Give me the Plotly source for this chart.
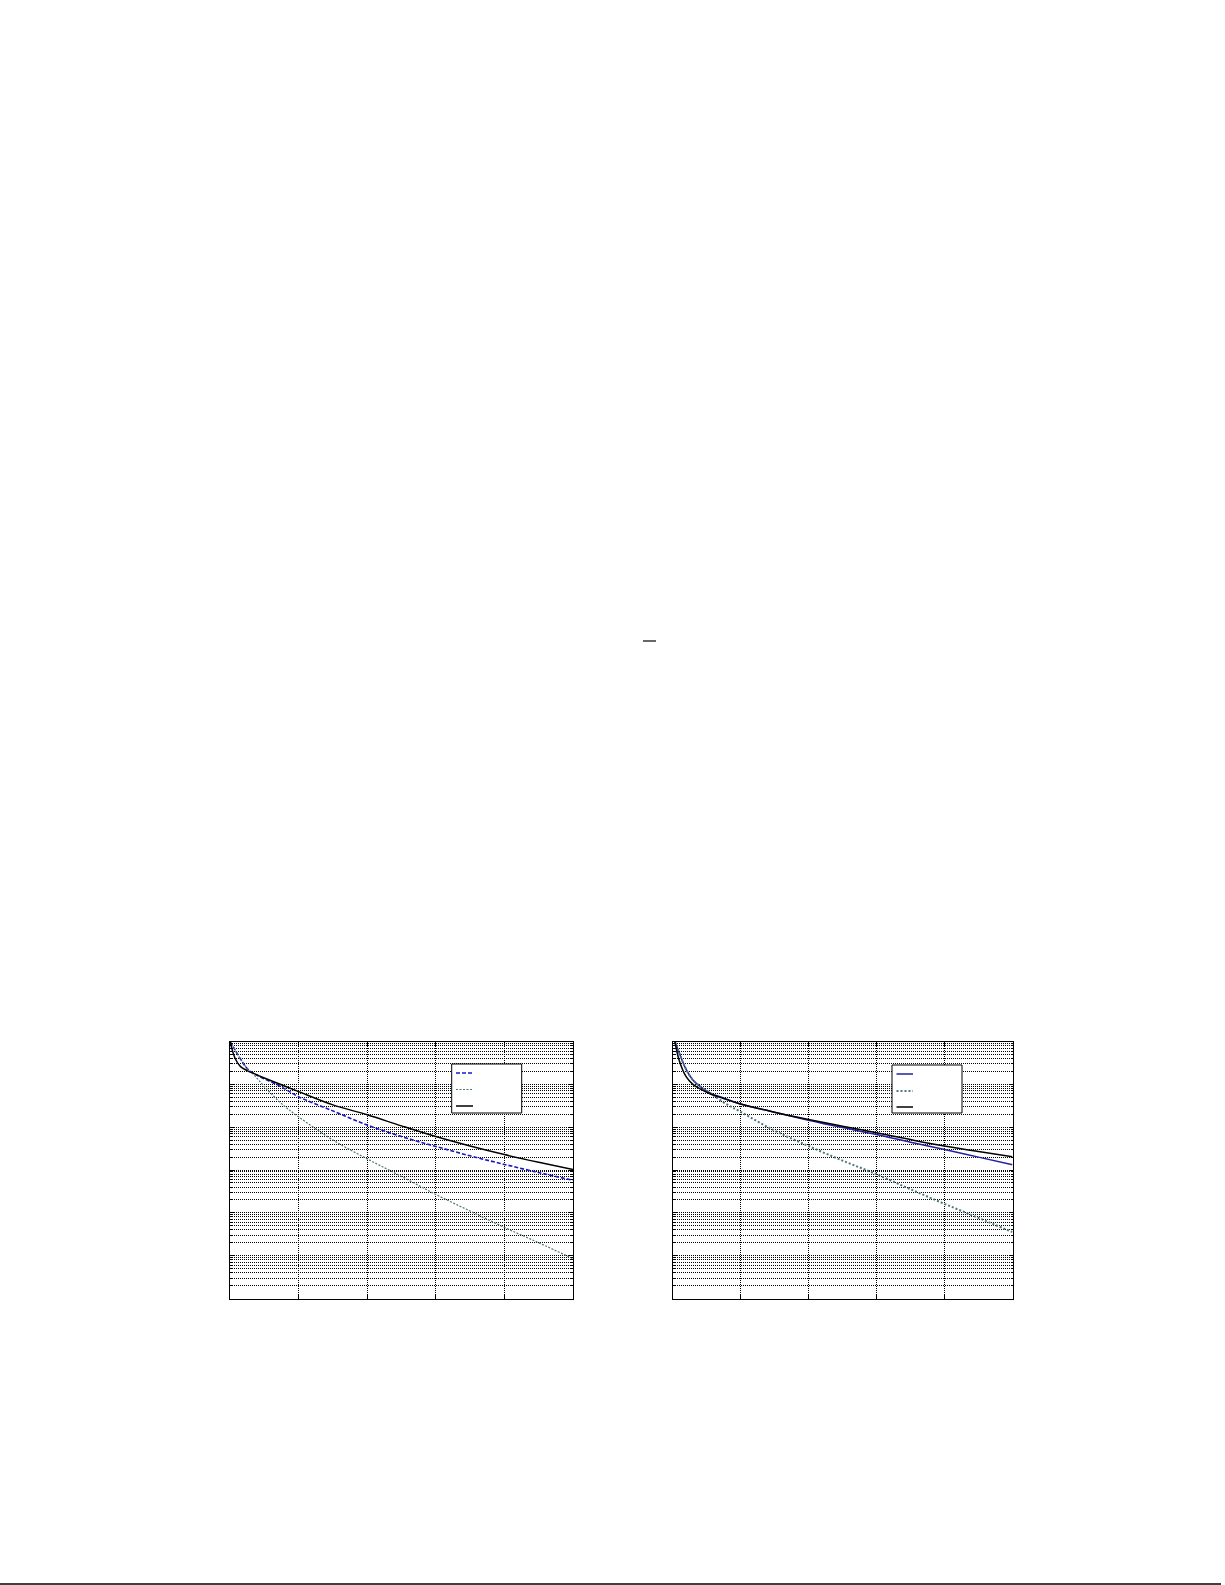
import plotly.graph_objects as go
from plotly.subplots import make_subplots

# page is 1225 x 1585, only the two small plots near the bottom carry marks
W, H = 1225, 1585

# x axis (Eb/N0 in dB, labels not legible in the source)
x_left = [0, 0.15, 0.3, 0.5, 0.7, 1, 1.5, 2, 3, 4, 5, 6, 7, 8, 9, 10]
x_right = [0.07, 0.2, 0.4, 0.6, 0.8, 1.1, 1.5, 2, 3, 4, 5, 6, 7, 8, 9, 10]

# left panel
left_blue = [1.0, 0.631, 0.398, 0.234, 0.178, 0.135, 0.0871, 0.0513, 0.0240,
             0.0112, 0.00603, 0.00355, 0.00214, 0.00135, 0.00087, 0.000575]
left_gray = [1.0, 0.631, 0.398, 0.234, 0.166, 0.0891, 0.0355, 0.0174, 0.00501,
             0.00182, 0.000708, 0.000269, 0.00011, 4.57e-5, 2.0e-5, 8.5e-6]
left_black = [1.0, 0.40, 0.263, 0.209, 0.178, 0.141, 0.0977, 0.0676, 0.0331,
              0.0195, 0.0107, 0.00603, 0.00363, 0.00229, 0.00151, 0.00102]

# right panel
right_blue = [1.0, 0.537, 0.224, 0.126, 0.0912, 0.0631, 0.0479, 0.0347, 0.0224,
              0.0145, 0.00977, 0.00676, 0.00447, 0.00302, 0.0020, 0.00132]
right_gray = [1.0, 0.537, 0.224, 0.126, 0.0912, 0.0631, 0.038, 0.0229, 0.00832,
              0.00363, 0.00166, 0.000794, 0.000355, 0.000162, 7.59e-5, 3.55e-5]
right_black = [1.0, 0.355, 0.151, 0.100, 0.0794, 0.0603, 0.0468, 0.0347, 0.0224,
               0.0151, 0.0105, 0.00741, 0.00513, 0.00363, 0.00269, 0.00204]

BLUE = "#1818c8"
NAVY = "#2020a0"
GRAY = "#507878"

# line styles, shared by curves and the legend samples
sty_l = [dict(color=BLUE, width=1.6, dash="4px,2px"),
         dict(color=GRAY, width=1.2, dash="2px,1.5px"),
         dict(color="black", width=1.5)]
sty_r = [dict(color=NAVY, width=1.5),
         dict(color=GRAY, width=2, dash="2px,2px"),
         dict(color="black", width=1.5)]

fig = make_subplots(rows=1, cols=2)

for y, s in zip([left_blue, left_gray, left_black], sty_l):
    fig.add_trace(go.Scatter(x=x_left, y=y, mode="lines",
                             line=dict(shape="spline", **s)), 1, 1)
for y, s in zip([right_blue, right_gray, right_black], sty_r):
    fig.add_trace(go.Scatter(x=x_right, y=y, mode="lines",
                             line=dict(shape="spline", **s)), 1, 2)

xdom_l = [230 / W, 573 / W]
xdom_r = [672.5 / W, 1012.5 / W]
ydom = [1 - 1298.5 / H, 1 - 1041.5 / H]

grid = dict(showgrid=True, gridcolor="black", gridwidth=1, griddash="1px,1px")
axis_common = dict(showline=True, linecolor="black", linewidth=1, mirror="ticks",
                   ticks="inside", ticklen=4, tickcolor="black",
                   showticklabels=False, zeroline=False, **grid)

for i, dom in ((1, xdom_l), (2, xdom_r)):
    fig.update_xaxes(domain=dom, range=[0, 10], dtick=2, row=1, col=i, **axis_common)
    fig.update_yaxes(domain=ydom, type="log", range=[-6, 0], dtick=1, row=1, col=i,
                     minor=dict(dtick="D1", ticks="inside", ticklen=2,
                                tickcolor="black", **grid),
                     **axis_common)


def px_x(v):
    return v / W


def px_y(v):
    return 1 - v / H


# legend boxes (entry text is not legible in the source, only the samples)
shapes = []
for (bx0, by0, bx1, by1), sx0, sx1, rows, styles in (
        ((451.7, 1064, 521.7, 1113), 456, 473, (1073, 1089.5, 1106), sty_l),
        ((892, 1065, 962, 1113), 896.5, 913, (1074, 1091, 1107), sty_r)):
    shapes.append(dict(type="rect", xref="paper", yref="paper",
                       x0=px_x(bx0), x1=px_x(bx1), y0=px_y(by1), y1=px_y(by0),
                       fillcolor="white", line=dict(color="black", width=1),
                       layer="above"))
    for ry, s in zip(rows, styles):
        shapes.append(dict(type="line", xref="paper", yref="paper",
                           x0=px_x(sx0), x1=px_x(sx1), y0=px_y(ry), y1=px_y(ry),
                           line=s, layer="above"))

# page rule at the bottom
shapes.append(dict(type="line", xref="paper", yref="paper", x0=0, x1=px_x(1221),
                   y0=px_y(1584), y1=px_y(1584), line=dict(color="black", width=1.5)))
# stray overbar left from a formula in the text body
shapes.append(dict(type="line", xref="paper", yref="paper", x0=px_x(643), x1=px_x(656),
                   y0=px_y(641), y1=px_y(641), line=dict(color="black", width=1.2)))

fig.update_layout(
    width=W, height=H,
    margin=dict(l=0, r=0, t=0, b=0),
    paper_bgcolor="white", plot_bgcolor="white",
    showlegend=False,
    shapes=shapes,
)

fig.write_html("out.html", config={"displayModeBar": False},
               post_script="document.body.style.margin='0';")
